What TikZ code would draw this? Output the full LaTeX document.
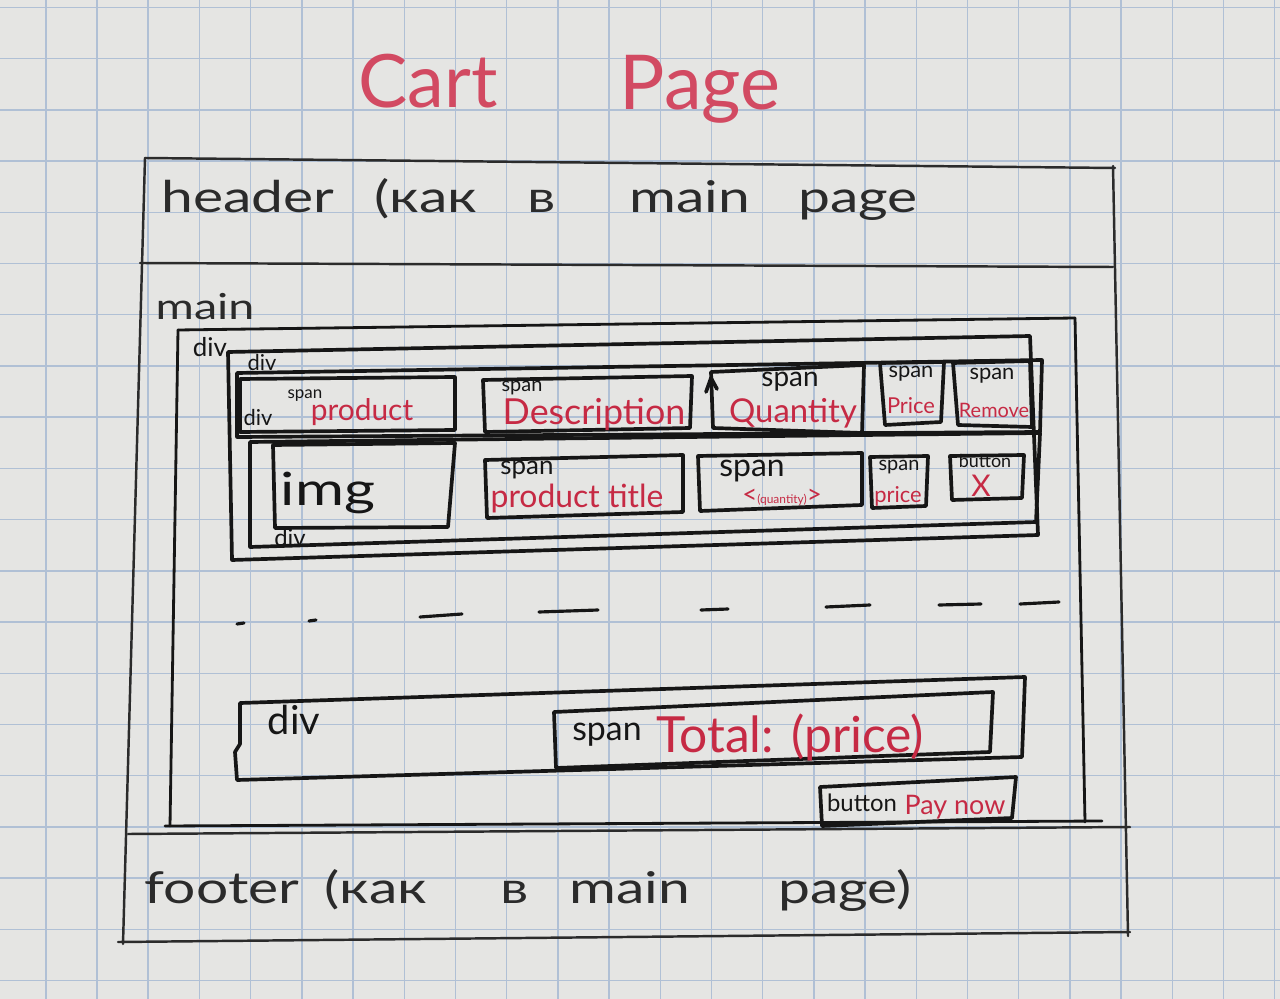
\documentclass[tikz,border=0pt]{standalone}
\usepackage{fontspec}
\setmainfont{Lato}
\usepackage{graphicx}

% font size given in picture pixels (1px = 0.02cm)
\newcommand\hwsize[1]{\fontsize{\fpeval{#1*0.5669}pt}{\fpeval{#1*0.68}pt}\selectfont}
% wide, hand-written proportions
\newcommand\hw[1]{\scalebox{1.3}[1]{#1}}

\definecolor{paper}{HTML}{E5E5E3}
\definecolor{gridc}{HTML}{B0C0D5}
\definecolor{inkblack}{HTML}{161616}
\definecolor{pencil}{HTML}{2B2B2B}
\definecolor{inkred}{HTML}{C62A44}
\definecolor{titlered}{HTML}{D24A62}

\tikzset{
  gridline/.style={draw=gridc, line width=0.8pt},
  frame/.style={draw=pencil, line width=1.4pt, line cap=round, line join=round},
  thinink/.style={draw=inkblack, line width=1.6pt, line cap=round, line join=round},
  ink/.style={draw=inkblack, line width=2.1pt, line cap=round, line join=round},
  dashpiece/.style={draw=inkblack, line width=1.8pt, line cap=round},
  blk/.style={inner sep=0pt, anchor=base, text=inkblack},
  rd/.style={inner sep=0pt, anchor=base, text=inkred},
  pen/.style={inner sep=0pt, anchor=base, text=pencil},
  ttl/.style={inner sep=0pt, anchor=base, text=titlered},
}

\begin{document}
\begin{tikzpicture}[x=0.02cm, y=-0.02cm]
\useasboundingbox (0,0) rectangle (1280,999);

% squared paper
\fill[paper] (0,0) rectangle (1280,999);
\foreach \k in {0,...,24}
  \draw[gridline] ({45.8+51.2*\k},0) -- ({45.8+51.2*\k},999);
\foreach \k in {0,...,19}
  \draw[gridline] (0,{7.6+51.2*\k}) -- (1280,{7.6+51.2*\k});

% title
\node[ttl, font=\hwsize{74}] (cart) at (428,108) {Cart};
\node[ttl, font=\hwsize{76}] (pagew) at (700,110) {Page};

% page frame: header / main / footer
\draw[frame] (145,158) -- (1115,168);
\draw[frame] (1113,166) -- (1128,936);
\draw[frame] (145,158) -- (123,944);
\draw[frame] (118,942) -- (1130,932);
\draw[frame] (140,263) -- (1113,267);
\draw[frame] (128,834) -- (1130,827);

% header text
\node[pen, font=\hwsize{44}] (h1) at (248,213) {\hw{header}};
\node[pen, font=\hwsize{44}] (h2) at (426,213) {\hw{(как}};
\node[pen, font=\hwsize{44}] (h3) at (542,213) {\hw{в}};
\node[pen, font=\hwsize{44}] (h4) at (690,213) {\hw{main}};
\node[pen, font=\hwsize{44}] (h5) at (858,213) {\hw{page}};

% main
\node[pen, font=\hwsize{36}] (mainlbl) at (205,320) {\hw{main}};
\draw[thinink] (178,330) -- (1075,318);
\draw[thinink] (178,330) -- (170,826);
\draw[thinink] (1075,318) -- (1085,822);
\draw[thinink] (165,826) -- (1102,821);

% cart list wrapper div
\draw[ink] (228,352) -- (1030,336) -- (1038,535) -- (232,560) -- cycle;
\node[blk, font=\hwsize{26}] (divouter) at (210,357) {div};

% row 1: column headings
\draw[ink] (237,373) -- (1042,360) -- (1040,432) -- (237,437) -- cycle;
\node[blk, font=\hwsize{22}] (divrow1) at (262,371) {div};

\draw[ink] (240,379) -- (455,377) -- (455,430) -- (240,432) -- cycle;
\node[blk, font=\hwsize{22}] (divprod) at (258,426) {div};
\node[blk, font=\hwsize{17}] (sp1) at (305,399) {span};
\node[rd, font=\hwsize{30}] (tprod) at (362,421) {product};

\draw[ink] (483,380) -- (692,376) -- (690,428) -- (485,432) -- cycle;
\node[blk, font=\hwsize{20}] (sp2) at (522,392) {span};
\node[rd, font=\hwsize{36}] (tdesc) at (594,425) {Description};

\draw[ink] (711,372) -- (864,365) -- (862,433) -- (713,428) -- cycle;
\draw[ink] (706,392) -- (711,378) -- (717,389);
\node[blk, font=\hwsize{28}] (sp3) at (790,387) {span};
\node[rd, font=\hwsize{33}] (tqty) at (793,423) {Quantity};

\draw[ink] (880,363) -- (944,362) -- (941,422) -- (885,425) -- cycle;
\node[blk, font=\hwsize{22}] (sp4) at (911,378) {span};
\node[rd, font=\hwsize{22}] (tprice) at (911,414) {Price};

\draw[ink] (953,363) -- (1030,361) -- (1032,427) -- (958,425) -- cycle;
\node[blk, font=\hwsize{22}] (sp5) at (992,380) {span};
\node[rd, font=\hwsize{20}] (tremove) at (994,418) {Remove};

% row 2: one cart item
\draw[ink] (250,442) -- (1040,433) -- (1036,522) -- (250,547) -- cycle;
\node[blk, font=\hwsize{24}] (divrow2) at (290,546) {div};

\draw[ink] (273,445) -- (455,443) -- (448,527) -- (275,528) -- cycle;
\node[blk, font=\hwsize{46}] (img) at (328,505) {\hw{img}};

\draw[ink] (485,460) -- (683,455) -- (683,512) -- (487,518) -- cycle;
\node[blk, font=\hwsize{26}] (sp6) at (527,475) {span};
\node[rd, font=\hwsize{32}] (ttitle) at (577,507) {product title};

\draw[ink] (698,456) -- (862,453) -- (862,505) -- (700,511) -- cycle;
\node[blk, font=\hwsize{32}] (sp7) at (752,477) {span};
\node[rd] (tq) at (782,503) {{\hwsize{26}<}{\hwsize{12}(quantity)}{\hwsize{26}>}};

\draw[ink] (870,457) -- (928,456) -- (926,506) -- (872,508) -- cycle;
\node[blk, font=\hwsize{20}] (sp8) at (899,471) {span};
\node[rd, font=\hwsize{22}] (tprice2) at (898,502) {price};

\draw[ink] (950,456) -- (1024,455) -- (1022,498) -- (952,500) -- cycle;
\node[blk, font=\hwsize{18}] (btn1) at (985,468) {button};
\node[rd, font=\hwsize{30}] (tx) at (981,497) {X};

% more items follow
\foreach \a/\b/\c/\d in {237/624/244/623, 309/621/316/620, 420/617/462/614,
    539/612/598/610, 701/610/728/609, 826/607/870/605, 939/605/981/604,
    1020/604/1059/602}
  \draw[dashpiece] (\a,\b) -- (\c,\d);

% total
\draw[ink] (240,703) -- (1025,677) -- (1022,757) -- (237,780) -- (235,752) -- (240,744) -- cycle;
\node[blk, font=\hwsize{40}] (divtotal) at (294,734) {div};
\draw[ink] (554,712) -- (993,692) -- (990,752) -- (556,768) -- cycle;
\node[blk, font=\hwsize{34}] (sp9) at (607,740) {span};
\node[rd, font=\hwsize{50}] (ttotal) at (790,752) {Total: (price)};

% pay button
\draw[ink] (820,787) -- (1016,777) -- (1012,818) -- (822,826) -- cycle;
\node[blk, font=\hwsize{24}] (btn2) at (862,811) {button};
\node[rd, font=\hwsize{27}] (tpay) at (955,814) {Pay now};

% footer text
\node[pen, font=\hwsize{44}] (f1) at (222,903) {\hw{footer}};
\node[pen, font=\hwsize{44}] (f2) at (376,903) {\hw{(как}};
\node[pen, font=\hwsize{44}] (f3) at (515,903) {\hw{в}};
\node[pen, font=\hwsize{44}] (f4) at (630,903) {\hw{main}};
\node[pen, font=\hwsize{44}] (f5) at (845,903) {\hw{page)}};
\end{tikzpicture}
\end{document}
